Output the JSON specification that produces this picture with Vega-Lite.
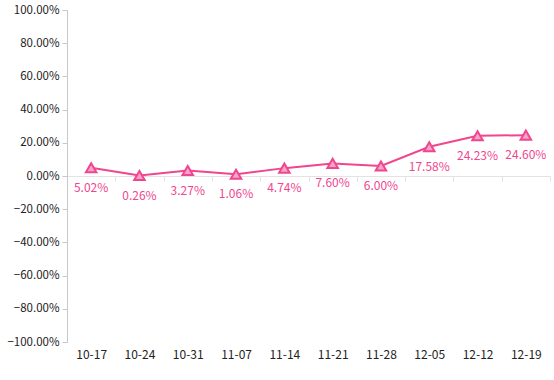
{
  "$schema": "https://vega.github.io/schema/vega-lite/v6.json",
  "width": 483,
  "height": 332,
  "autosize": {"type": "none"},
  "padding": {"left": 67, "top": 10, "right": 4, "bottom": 38},
  "config": {"view": {"stroke": null}, "font": "Noto Sans CJK SC"},
  "data": {"values": [
    {"date": "10-17", "value": 0.0502},
    {"date": "10-24", "value": 0.0026},
    {"date": "10-31", "value": 0.0327},
    {"date": "11-07", "value": 0.0106},
    {"date": "11-14", "value": 0.0474},
    {"date": "11-21", "value": 0.0760},
    {"date": "11-28", "value": 0.0600},
    {"date": "12-05", "value": 0.1758},
    {"date": "12-12", "value": 0.2423},
    {"date": "12-19", "value": 0.2460}
  ]},
  "encoding": {
    "x": {"field": "date", "type": "ordinal", "scale": {"type": "band", "paddingInner": 0, "paddingOuter": 0},
      "axis": {"orient": "bottom", "offset": -166, "domain": true, "domainColor": "#e3e3e3", "ticks": true, "tickColor": "#e3e3e3", "tickSize": 5, "tickBand": "extent", "labelAngle": 0, "labelPadding": 168, "labelFontSize": 12, "labelColor": "#222222", "title": null}},
    "y": {"field": "value", "type": "quantitative", "scale": {"domain": [-1, 1], "nice": false},
      "axis": {"values": [-1, -0.8, -0.6, -0.4, -0.2, 0, 0.2, 0.4, 0.6, 0.8, 1], "format": ".2%", "grid": false, "labelOverlap": false, "domainColor": "#c8c8c8", "tickColor": "#c8c8c8", "tickSize": 5, "labelFontSize": 11.5, "labelColor": "#222222", "labelPadding": 3, "title": null}}
  },
  "layer": [
    {
      "mark": {"type": "line", "color": "#f0468f", "strokeWidth": 2}
    },
    {
      "mark": {"type": "point", "shape": "triangle-up", "size": 110, "filled": true, "fill": "#f6a3c9", "stroke": "#f0468f", "strokeWidth": 2, "opacity": 1}
    },
    {
      "mark": {"type": "text", "dy": 20, "color": "#f0468f", "fontSize": 12},
      "encoding": {"text": {"field": "value", "type": "quantitative", "format": ".2%"}}
    }
  ]
}
